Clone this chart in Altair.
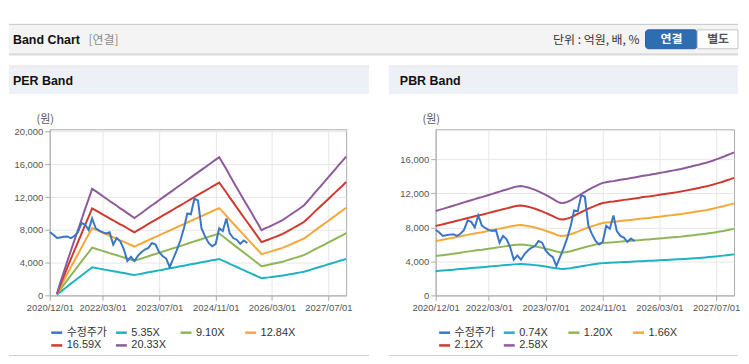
import altair as alt
import pandas as pd

# ---------------- data ----------------
months = pd.date_range("2020-12-01", periods=85, freq="MS")
price_label = "수정주가"

# adjusted stock price (monthly, 2020/12 .. 2025/08)
price = [7730, 7400, 7000, 7070, 7150, 7200, 7000, 7250, 7700, 8830,
         8650, 8000, 9400, 8200, 7900, 7700, 7570, 7700, 6200, 7000,
         6600, 5630, 4200, 4700, 4200, 4850, 5300, 5600, 5800, 6400,
         6200, 5300, 4800, 4500, 3450, 4500, 5500, 6700, 8200, 10000,
         9900, 11800, 11600, 8200, 7200, 6400, 6000, 6300, 8200, 7850,
         9400, 7600, 7000, 6800, 6300, 6700, 6400]

# EPS basis for PER band (2020/12 .. 2027/12)
eps = [None, None,
       10, 75, 140, 205, 268, 330, 392, 455, 517, 578, 640,
       626, 611, 597, 582, 567, 553, 538, 523, 509, 494, 479, 464,
       480, 495, 510, 526, 541, 556, 571, 587, 602, 617, 632, 648,
       663, 678, 693, 709, 724, 739, 754, 769, 785, 800, 815, 830,
       794, 757, 721, 684, 648, 611, 575, 538, 502, 465, 429, 392,
       402, 411, 421, 431, 441, 452, 466, 481, 496, 510, 525, 540,
       564, 589, 613, 637, 661, 686, 710, 735, 760, 785, 809, 834]

# BPS basis for PBR band (2020/12 .. 2027/12)
bps = [3850, 3900, 3945, 3990, 4040, 4090, 4140, 4190, 4240, 4290, 4340, 4390, 4440,
       4480, 4530, 4580, 4630, 4680, 4730, 4780, 4830, 4880, 4930, 4970, 4990,
       4960, 4920, 4870, 4810, 4740, 4660, 4580, 4490, 4400, 4300, 4220, 4210,
       4260, 4330, 4420, 4520, 4620, 4720, 4810, 4900, 4980, 5060, 5130, 5160,
       5190, 5210, 5240, 5270, 5300, 5320, 5350, 5380, 5410, 5440, 5470, 5490,
       5520, 5550, 5580, 5610, 5640, 5670, 5700, 5730, 5760, 5800, 5840, 5880,
       5920, 5960, 6000, 6040, 6090, 6140, 6200, 6260, 6320, 6390, 6450, 6520]

per_multiples = [5.35, 9.10, 12.84, 16.59, 20.33]
per_labels = ["5.35X", "9.10X", "12.84X", "16.59X", "20.33X"]
pbr_multiples = [0.74, 1.20, 1.66, 2.12, 2.58]
pbr_labels = ["0.74X", "1.20X", "1.66X", "2.12X", "2.58X"]

price_color = "#3a76c4"
band_colors = ["#1fb2c3", "#8fb656", "#f5a83a", "#d0392d", "#8e5a9c"]

x_ticks = [(2020, 12), (2022, 3), (2023, 7), (2024, 11), (2026, 3), (2027, 7)]
per_yticks = [0, 4000, 8000, 12000, 16000, 20000]
pbr_yticks = [0, 4000, 8000, 12000, 16000]

FONT = "Liberation Sans, Noto Sans CJK KR"
KFONT = "Noto Sans CJK KR, Liberation Sans"

# ---------------- tables ----------------
price_df = pd.DataFrame({"date": months[:len(price)], "value": price, "series": price_label})


def band_table(base, mults, labels):
    rows = []
    for m, lab in zip(mults, labels):
        for d, b in zip(months, base):
            if b is not None:
                rows.append({"date": d, "value": b * m, "series": lab})
    return pd.DataFrame(rows)


per_df = band_table(eps, per_multiples, per_labels)
pbr_df = band_table(bps, pbr_multiples, pbr_labels)

deco = pd.DataFrame({"k": [0]})


def drect(x, x2, y, y2, **kw):
    return alt.Chart(deco).mark_rect(**kw).encode(
        x=alt.value(x), x2=alt.value(x2), y=alt.value(y), y2=alt.value(y2))


def drule(x, x2, y, color):
    return alt.Chart(deco).mark_rule(color=color, strokeWidth=1).encode(
        x=alt.value(x), x2=alt.value(x2), y=alt.value(y))


def dtext(x, y, s, **kw):
    return alt.Chart(deco).mark_text(text=s, baseline="middle", **kw).encode(
        x=alt.value(x), y=alt.value(y))


def panel(band_df, labels, ymax, yticks, width, title, left, right, title_x, legend_x, header=False):
    domain = [price_label] + labels
    color = alt.Color(
        "series:N",
        scale=alt.Scale(domain=domain, range=[price_color] + band_colors),
        legend=alt.Legend(
            title=None, orient="none", legendX=legend_x, legendY=197.5,
            direction="horizontal",
            columns=4, gridAlign="all", columnPadding=3, rowPadding=0.8,
            symbolType="stroke", symbolSize=121, symbolStrokeWidth=2.5,
            labelOffset=3, labelFontSize=11, labelColor="#333333", labelFont=FONT,
            padding=0, offset=0,
        ),
    )
    x = alt.X(
        "date:T",
        scale=alt.Scale(domain=[alt.DateTime(year=2020, month=12, date=1),
                                alt.DateTime(year=2027, month=12, date=1)]),
        axis=alt.Axis(values=[alt.DateTime(year=y, month=m, date=1) for y, m in x_ticks],
                      format="%Y/%m/%d", labelOverlap=False, labelFlush=False, labelBound=False),
        title=None,
    )
    y = alt.Y(
        "value:Q",
        scale=alt.Scale(domain=[0, ymax], nice=False, zero=True),
        axis=alt.Axis(values=yticks, format=",d", title="(원)", titleAngle=0,
                      titleX=-5, titleY=-10, titleAlign="center", titleBaseline="middle",
                      titleFontSize=11, titleFontWeight="normal", titleColor="#555555",
                      titleFont=KFONT),
    )
    bands = alt.Chart(band_df).mark_line(strokeWidth=2).encode(x=x, y=y, color=color)
    prices = alt.Chart(price_df).mark_line(strokeWidth=2).encode(x=x, y=y, color=color)

    layers = []
    if header:
        layers += [
            drect(-41, 692, -105.5, -75.5, fill="#f4f4f4"),
            drule(-41, 692, -105.5, "#c6c6c6"),
            drule(-41, 692, -75.5, "#c4c4c4"),
            drule(-41, 692, -74.5, "#e4e4e4"),
            dtext(-37, -89.5, "Band Chart", align="left", fontSize=12.5, fontWeight="bold",
                  color="#111111", font=FONT),
            dtext(39, -89.5, "[연결]", align="left", fontSize=12, color="#8a8a8a", font=KFONT),
            dtext(593, -89.5, "단위 : 억원, 배, %", align="right", fontSize=12, color="#333333",
                  font=KFONT),
            drect(599, 651, -100, -81, fill="#2f6db1", stroke="#2a5f9c", cornerRadius=3),
            dtext(625, -90.5, "연결", align="center", fontSize=12, fontWeight="bold",
                  color="white", font=KFONT),
            drect(651, 692, -100, -81, fill="white", stroke="#c6c6c6"),
            dtext(672, -90.5, "별도", align="center", fontSize=12, fontWeight="bold",
                  color="#555555", font=KFONT),
        ]
    layers += [
        drect(left, right, -63, -35.5, fill="#edf1f7"),
        drule(left, right, -63.5, "#dcdcdc"),
        drule(left, right, 227.5, "#cfcfcf"),
        dtext(title_x, -48.5, title, align="left", fontSize=12.5, fontWeight="bold",
              color="#111111", font=FONT),
        bands,
        prices,
    ]
    return alt.layer(*layers).properties(width=width, height=167)


per = panel(per_df, per_labels, 20280, per_yticks, 298, "PER Band", -41, 321, -37, 0, header=True)
pbr = panel(pbr_df, pbr_labels, 19540, pbr_yticks, 300, "PBR Band", -47, 304, -36, 2)

chart = (
    alt.HConcatChart(hconcat=[per, pbr], spacing=90, bounds="flush")
    .resolve_scale(color="independent", x="independent", y="independent")
    .resolve_legend(color="independent")
    .properties(padding={"left": 0, "top": 14, "right": 0, "bottom": 0}, background="white")
    .configure_view(stroke="#aaaaaa", fill="white")
    .configure_axis(
        labelFont=FONT, labelFontSize=9.5, labelColor="#555555",
        tickColor="#aaaaaa", tickSize=5, domainColor="#aaaaaa",
        gridColor="#e6e6e6", grid=True, labelPadding=2,
    )
)

chart.save("out.html", embed_options={"renderer": "svg", "actions": False})
